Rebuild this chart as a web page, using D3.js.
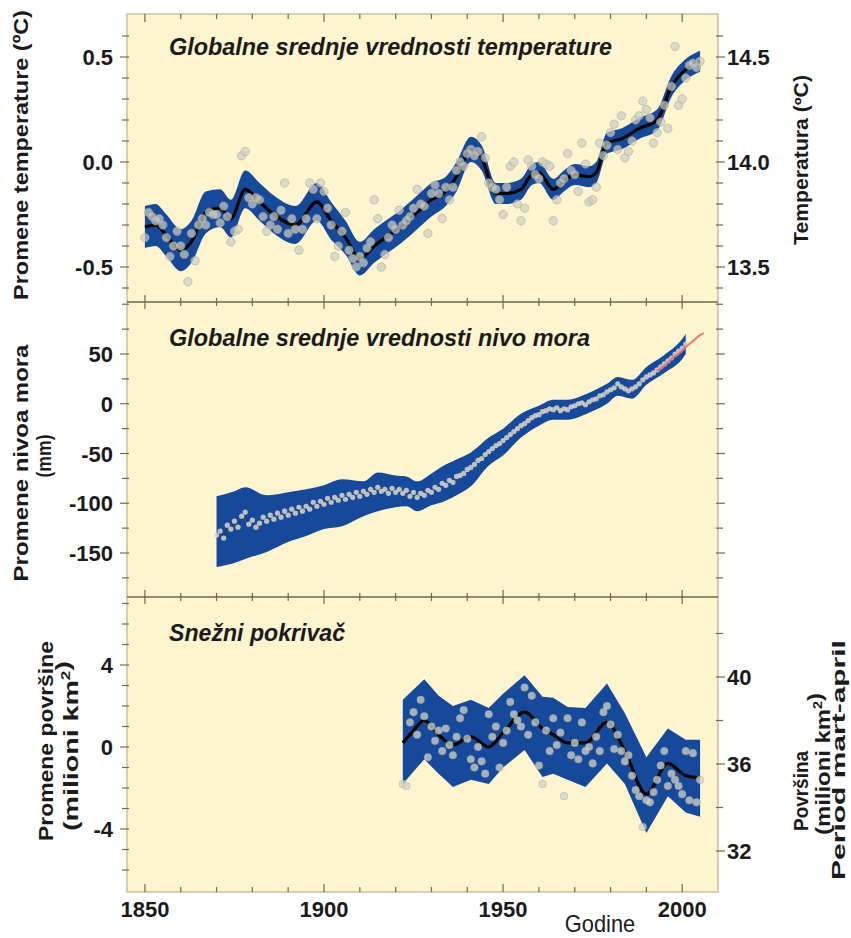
<!DOCTYPE html>
<html><head><meta charset="utf-8">
<script src="https://cdn.jsdelivr.net/npm/d3@7"></script>
<style>body{margin:0;background:#fff}svg{display:block}</style>
</head><body><svg id="c" width="851" height="938"></svg>
<script>
// ---------------- DATA ----------------
const tempStart = 1850;
const tempAnnual = [
-0.36,-0.24,-0.26,-0.28,-0.27,-0.30,-0.36,-0.45,-0.40,-0.33,
-0.40,-0.44,-0.57,-0.34,-0.47,-0.30,-0.27,-0.30,-0.24,-0.25,
-0.25,-0.29,-0.21,-0.26,-0.38,-0.33,-0.32,0.03,0.05,-0.17,
-0.20,-0.17,-0.18,-0.26,-0.33,-0.30,-0.26,-0.32,-0.23,-0.10,
-0.34,-0.27,-0.32,-0.42,-0.32,-0.27,-0.10,-0.13,-0.27,-0.10,
-0.14,-0.22,-0.30,-0.45,-0.40,-0.33,-0.24,-0.42,-0.46,-0.50,
-0.45,-0.48,-0.41,-0.38,-0.18,-0.27,-0.50,-0.44,-0.36,-0.30,
-0.32,-0.23,-0.30,-0.28,-0.26,-0.22,-0.13,-0.20,-0.21,-0.34,
-0.15,-0.11,-0.15,-0.27,-0.12,-0.18,-0.12,-0.04,0.00,-0.02,
0.04,0.06,0.03,0.05,0.12,0.02,-0.10,-0.12,-0.13,-0.18,
-0.25,-0.12,-0.02,0.00,-0.20,-0.28,-0.22,0.01,-0.02,-0.06,
-0.08,0.00,-0.01,-0.02,-0.28,-0.18,-0.10,-0.08,0.04,-0.04,
-0.06,-0.14,0.09,-0.01,-0.19,-0.18,-0.12,0.09,0.03,0.08,
0.14,0.18,0.06,0.22,0.02,0.05,0.10,0.20,0.22,0.29,
0.25,0.21,0.09,0.14,0.19,0.27,0.16,0.36,0.55,0.27,
0.30,0.40,0.46,0.47,0.45,0.48];
const tempKeyYears = [1850,1853,1856,1860,1863,1867,1871,1874,1878,1882,1886,1892,1898,1902,1906,1910,1914,1918,1922,1926,1930,1934,1937,1941,1944,1948,1951,1955,1958,1960,1964,1967,1970,1974,1976,1979,1983,1988,1993,1997,2001,2005];
const tempSmooth = [-0.31,-0.30,-0.35,-0.42,-0.38,-0.24,-0.22,-0.27,-0.13,-0.19,-0.25,-0.30,-0.19,-0.28,-0.36,-0.46,-0.40,-0.35,-0.30,-0.24,-0.18,-0.14,-0.07,0.06,0.02,-0.15,-0.15,-0.13,-0.06,-0.05,-0.13,-0.09,-0.06,-0.07,-0.05,0.09,0.11,0.16,0.20,0.36,0.44,0.48];
const tempUncert = [0.10,0.10,0.10,0.10,0.10,0.10,0.09,0.09,0.09,0.09,0.09,0.09,0.09,0.09,0.08,0.08,0.08,0.08,0.08,0.08,0.08,0.07,0.07,0.06,0.06,0.05,0.05,0.05,0.05,0.05,0.05,0.05,0.05,0.05,0.05,0.05,0.05,0.05,0.05,0.05,0.05,0.05];

const seaStart = 1870;
const seaAnnual = [
-132,-128,-135,-122,-126,-118,-124,-113,-109,-121,
-117,-124,-120,-114,-118,-112,-116,-110,-114,-108,
-112,-106,-110,-104,-108,-103,-106,-99,-103,-98,
-101,-95,-99,-94,-97,-92,-96,-91,-94,-89,
-93,-88,-91,-86,-89,-84,-88,-86,-90,-85,
-89,-86,-90,-87,-93,-89,-94,-90,-92,-87,
-89,-84,-86,-80,-82,-77,-79,-73,-72,-70,
-66,-64,-61,-57,-55,-51,-48,-45,-42,-40,
-37,-34,-31,-28,-25,-22,-20,-17,-14,-12,
-11,-8,-7,-5,-6,-4,-7,-5,-6,-3,
-2,0,1,-1,2,4,5,8,9,12,
14,16,20,17,15,13,15,17,20,24,
27,29,31,34,37,40,43,46,50,53,
56,60];
const seaKeyYears = [1870,1875,1878,1884,1890,1895,1900,1905,1911,1915,1920,1923,1926,1930,1933,1937,1941,1946,1950,1955,1960,1964,1968,1974,1979,1982,1986,1990,1995,2000,2001];
const seaLower = [-164,-160,-156,-149,-139,-133,-126,-123,-113,-108,-104,-103,-108,-102,-99,-92,-83,-62,-52,-34,-22,-16,-16,-9,0,8,5,19,31,45,50];
const seaUpper = [-93,-88,-84,-92,-89,-86,-82,-76,-78,-69,-72,-73,-78,-70,-63,-56,-49,-34,-25,-10,-2,4,4,11,20,27,24,37,49,65,70];
const satYears = [1993,1995,1997,1999,2001,2003,2005,2006];
const satValues = [33,38,45,50,57,63,69,71];

const snowStart = 1922;
const snowAnnual = [
-1.8,-1.9,1.2,1.7,0.6,2.3,1.5,-0.5,
1.0,0.3,0.8,-0.2,0.9,0.1,-0.4,0.5,1.4,1.8,
0.4,-0.6,-1.0,0.0,-0.7,-1.3,1.6,0.5,1.0,-1.0,
0.2,0.8,2.2,1.6,1.3,1.0,2.9,0.6,2.5,1.2,
-0.9,-1.8,0.8,-0.2,1.4,0.1,0.7,-2.4,1.4,-0.4,
0.2,-0.6,1.2,-0.2,0.0,-0.8,0.5,-0.2,1.7,2.0,
1.1,-0.1,0.6,-0.2,-0.7,-0.4,-1.4,-2.1,-2.4,-3.9,
-2.6,-2.7,-2.2,-1.6,-0.9,-0.2,-1.9,-1.3,-1.6,-1.9,
-2.3,-0.2,-2.6,-0.3,-2.7,-1.6];
const snowKeyYears = [1922,1925,1928,1932,1936,1941,1946,1950,1956,1961,1964,1968,1973,1979,1984,1990,1996,2001,2005];
const snowSmooth = [0.2,0.8,1.3,0.6,0.1,0.5,0.0,0.7,1.7,0.9,0.6,0.2,0.2,1.2,-0.2,-2.3,-0.8,-1.4,-1.5];
const snowUpper = [2.3,2.8,3.3,2.5,2.0,2.3,1.9,2.6,3.5,2.45,2.4,1.95,1.9,3.1,1.65,-0.5,0.9,0.35,0.35];
const snowLower = [-1.8,-1.2,-0.6,-1.3,-1.95,-1.6,-1.8,-1.0,-0.15,-1.46,-1.3,-1.6,-1.95,-0.8,-1.8,-4.2,-2.4,-3.2,-3.4];

const xTickLabels = [1850,1900,1950,2000];
const tempTicks = [-0.5,0.0,0.5];
const tempRightTicks = [13.5,14.0,14.5];
const seaTicks = [-150,-100,-50,0,50];
const snowTicks = [-4,0,4];
const snowRightTicks = [32,36,40];

// ---------------- LAYOUT ----------------
const svg = d3.select("#c");
const L = 127, R = 718, TOP = 14, S1 = 302, S2 = 597, BOT = 892;
const x = d3.scaleLinear().domain([1845, 2010]).range([L, R]);
const y1 = d3.scaleLinear().domain([0.5, -0.5]).range([57, 267]);
const y1r = d3.scaleLinear().domain([14.5, 13.5]).range([57, 267]);
const y2 = d3.scaleLinear().domain([50, -150]).range([354, 553]);
const y3 = d3.scaleLinear().domain([4, -4]).range([665, 829]);
const y3r = d3.scaleLinear().domain([40, 32]).range([677, 851]);

const BG = "#fcf5d0", BAND = "#17499b", TICK = "#6e6a4c", TXT = "#1b1b1b";
const SANS = "'Liberation Sans',Arial,sans-serif";

svg.append("rect").attr("x", L).attr("y", TOP).attr("width", R - L).attr("height", BOT - TOP)
  .attr("fill", BG).attr("stroke", "#c9c19c").attr("stroke-width", 1.5);

const defs = svg.append("defs");
[[TOP, S1], [S1, S2], [S2, BOT]].forEach((p, i) => {
  defs.append("clipPath").attr("id", "cp" + i).append("rect")
    .attr("x", L).attr("y", p[0]).attr("width", R - L).attr("height", p[1] - p[0]);
});

// ---------------- TICKS ----------------
const tg = svg.append("g").attr("stroke", TICK).attr("stroke-width", 1.2);
const decades = d3.range(1850, 2001, 10);
decades.forEach(yr => {
  const major = yr % 50 === 0;
  const X = x(yr);
  tg.append("line").attr("x1", X).attr("x2", X).attr("y1", TOP).attr("y2", TOP + (major ? 8 : 5));
  [S1, S2].forEach(s => tg.append("line").attr("x1", X).attr("x2", X)
    .attr("y1", s - (major ? 7 : 4)).attr("y2", s + (major ? 7 : 4)));
  tg.append("line").attr("x1", X).attr("x2", X).attr("y1", BOT).attr("y2", BOT - (major ? 8 : 5));
});
function yTicks(scale, vals, majors, side, lo, hi) {
  vals.forEach(v => {
    const Y = scale(v);
    if (Y < lo + 2 || Y > hi - 2) return;
    const isMaj = majors.some(m => Math.abs(m - v) < 1e-6);
    const len = isMaj ? 7 : 5;
    const X0 = side === "l" ? L : R;
    const d = side === "l" ? -1 : 1;
    tg.append("line").attr("x1", X0 - d * 2).attr("x2", X0 + d * len).attr("y1", Y).attr("y2", Y);
  });
}
yTicks(y1, d3.range(-6, 8).map(v => v / 10), tempTicks, "l", TOP, S1);
yTicks(y1, d3.range(-6, 8).map(v => v / 10), tempTicks, "r", TOP, S1);
yTicks(y2, d3.range(-175, 101, 25), seaTicks, "l", S1, S2);
yTicks(y2, d3.range(-175, 101, 25), seaTicks, "r", S1, S2);
yTicks(y3, d3.range(-7, 8, 1), snowTicks, "l", S2, BOT);
yTicks(y3r, d3.range(30, 43, 2), snowRightTicks, "r", S2, BOT);

svg.append("g").attr("stroke", "#6b6849").attr("stroke-width", 1.6)
  .selectAll("line").data([S1, S2]).join("line")
  .attr("x1", L).attr("x2", R).attr("y1", d => d).attr("y2", d => d);

// ---------------- PANEL 1: TEMPERATURE ----------------
const p1 = svg.append("g").attr("clip-path", "url(#cp0)");
const tKey = tempKeyYears.map((yr, i) => ({ yr, v: tempSmooth[i], u: tempUncert[i] }));
p1.append("path").datum(tKey).attr("fill", BAND)
  .attr("d", d3.area().curve(d3.curveMonotoneX).x(d => x(d.yr)).y0(d => y1(d.v - d.u)).y1(d => y1(d.v + d.u)));
p1.append("path").datum(tKey).attr("fill", "none").attr("stroke", "#050505").attr("stroke-width", 3.2)
  .attr("d", d3.line().curve(d3.curveMonotoneX).x(d => x(d.yr)).y(d => y1(d.v)));
p1.append("g").selectAll("circle").data(tempAnnual).join("circle")
  .attr("cx", (d, i) => x(tempStart + i)).attr("cy", d => y1(d)).attr("r", 4.2)
  .attr("fill", "#cfcfc2").attr("fill-opacity", 0.7).attr("stroke", "#a5a597").attr("stroke-width", 0.8).attr("stroke-opacity", 0.7);

// ---------------- PANEL 2: SEA LEVEL ----------------
const p2 = svg.append("g").attr("clip-path", "url(#cp1)");
const sKey = seaKeyYears.map((yr, i) => ({ yr, lo: seaLower[i], hi: seaUpper[i] }));
p2.append("path").datum(sKey).attr("fill", BAND)
  .attr("d", d3.area().curve(d3.curveMonotoneX).x(d => x(d.yr)).y0(d => y2(d.lo)).y1(d => y2(d.hi)));
p2.append("path").datum(seaAnnual).attr("fill", "none").attr("stroke", "#2a3a58").attr("stroke-width", 1.2)
  .attr("d", d3.line().x((d, i) => x(seaStart + i)).y(d => y2(d)));
p2.append("g").selectAll("circle").data(seaAnnual).join("circle")
  .attr("cx", (d, i) => x(seaStart + i)).attr("cy", d => y2(d)).attr("r", 2.6)
  .attr("fill", "#d9d6cc").attr("fill-opacity", 0.85);
p2.append("path").datum(satYears.map((yr, i) => ({ yr, v: satValues[i] })))
  .attr("fill", "none").attr("stroke", "#ee6a5e").attr("stroke-width", 2.2).attr("stroke-opacity", 0.85)
  .attr("d", d3.line().curve(d3.curveMonotoneX).x(d => x(d.yr)).y(d => y2(d.v)));

// ---------------- PANEL 3: SNOW ----------------
const p3 = svg.append("g").attr("clip-path", "url(#cp2)");
const nKey = snowKeyYears.map((yr, i) => ({ yr, v: snowSmooth[i], lo: snowLower[i], hi: snowUpper[i] }));
p3.append("path").datum(nKey).attr("fill", BAND)
  .attr("d", d3.area().x(d => x(d.yr)).y0(d => y3(d.lo)).y1(d => y3(d.hi)));
p3.append("path").datum(nKey).attr("fill", "none").attr("stroke", "#050505").attr("stroke-width", 3.2)
  .attr("d", d3.line().curve(d3.curveMonotoneX).x(d => x(d.yr)).y(d => y3(d.v)));
p3.append("g").selectAll("circle").data(snowAnnual).join("circle")
  .attr("cx", (d, i) => x(snowStart + i)).attr("cy", d => y3(d)).attr("r", 3.8)
  .attr("fill", "#d3d3c8").attr("fill-opacity", 0.75).attr("stroke", "#a5a597").attr("stroke-width", 0.7).attr("stroke-opacity", 0.6);

// ---------------- LABELS ----------------
const hy = s => s.replace("\u2212", "-");
const lab = svg.append("g").attr("fill", TXT).attr("font-family", SANS).attr("font-weight", "bold").attr("font-size", 22);
function leftLabels(scale, vals, fmt) {
  vals.forEach(v => lab.append("text").attr("x", 113).attr("y", scale(v) + 8).attr("text-anchor", "end").text(hy(fmt(v))));
}
function rightLabels(scale, vals, fmt) {
  vals.forEach(v => lab.append("text").attr("x", 727).attr("y", scale(v) + 8).attr("text-anchor", "start").text(hy(fmt(v))));
}
leftLabels(y1, tempTicks, d3.format(".1f"));
rightLabels(y1r, tempRightTicks, d3.format(".1f"));
leftLabels(y2, seaTicks, d3.format("d"));
leftLabels(y3, snowTicks, d3.format("d"));
rightLabels(y3r, snowRightTicks, d3.format("d"));
xTickLabels.forEach(v => lab.append("text").attr("x", x(v)).attr("y", 917).attr("text-anchor", "middle").text(v));

svg.append("text").attr("text-anchor", "middle")
  .attr("font-family", SANS).attr("font-size", 23).attr("fill", TXT)
  .attr("transform", "translate(600,932) scale(0.95,1)").text("Godine");

// panel titles
const titles = [
  { t: "Globalne srednje vrednosti temperature", x: 169, y: 55, w: 443 },
  { t: "Globalne srednje vrednosti nivo mora", x: 169, y: 346, w: 421 },
  { t: "Snežni pokrivač", x: 169, y: 641, w: 176 }
];
titles.forEach(d => svg.append("text").attr("x", d.x).attr("y", d.y)
  .attr("font-family", SANS).attr("font-style", "italic").attr("font-weight", "bold")
  .attr("font-size", 23).attr("fill", TXT)
  .attr("textLength", d.w).attr("lengthAdjust", "spacingAndGlyphs").text(d.t));

// rotated axis titles: scaled along their length to match the reference extents
function vlabel(bx, cy, parts, len, size) {
  const t = svg.append("text").attr("text-anchor", "middle").attr("font-family", SANS)
    .attr("font-weight", "bold").attr("font-size", size || 20).attr("fill", TXT);
  parts.forEach(p => {
    if (p === "^2") {
      t.append("tspan").attr("font-size", 12).attr("dy", -8).text("2");
      t.append("tspan").attr("dy", 8).text("");
    } else t.append("tspan").text(p);
  });
  const w = t.node().getComputedTextLength();
  t.attr("transform", `translate(${bx},${cy}) rotate(-90) scale(${len / w},1)`);
}
vlabel(28, 155, ["Promene temperature (ºC)"], 290);
vlabel(28, 463, ["Promene nivoa mora"], 237);
vlabel(51, 456, ["(mm)"], 43);
vlabel(53, 741, ["Promene površine"], 200);
vlabel(78, 746, ["(milioni km", "^2", ")"], 170);
vlabel(808, 160, ["Temperatura (ºC)"], 170);
vlabel(808, 791, ["Površina"], 80);
vlabel(830, 764, ["(milioni km", "^2", ")"], 142);
vlabel(845, 760, ["Period mart-april"], 240, 19);
</script></body></html>
